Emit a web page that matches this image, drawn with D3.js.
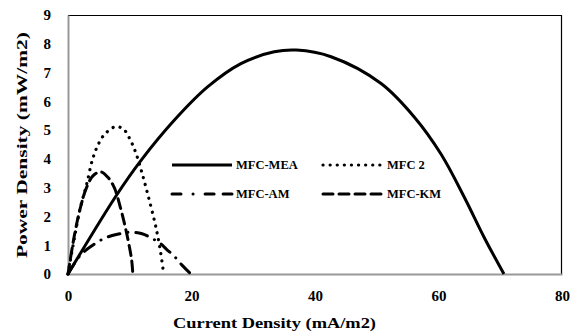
<!DOCTYPE html>
<html><head><meta charset="utf-8">
<script src="https://cdn.jsdelivr.net/npm/d3@7"></script>
<style>body{margin:0;background:#fff}svg{display:block}text{font-family:"Liberation Serif","Times New Roman",serif;font-weight:bold}</style>
</head><body>
<svg id="c" width="570" height="335"></svg>
<script>
const xTicks = [0, 20, 40, 60, 80];
const yTicks = [0, 1, 2, 3, 4, 5, 6, 7, 8, 9];
const seriesNames = ["MFC-MEA", "MFC 2", "MFC-AM", "MFC-KM"];
const meaX = [0, 7.8, 11.8, 17.2, 22.6, 28.0, 33.4, 37.0, 42.6, 50.7, 56.1, 60.4, 64.2, 67.4, 70.6];
const meaY = [0, 2.72, 3.94, 5.34, 6.5, 7.31, 7.72, 7.78, 7.55, 6.62, 5.45, 4.17, 2.66, 1.27, 0];
const mfc2X = [0, 1, 2, 3, 4, 5, 6, 7.7, 9, 10, 11, 12, 13, 14, 14.5, 15, 15.5];
const mfc2Y = [0, 1.2, 2.3, 3.1, 4.0, 4.55, 4.87, 5.12, 5.03, 4.7, 4.2, 3.5, 2.7, 1.85, 1.35, 0.75, 0];
const amX = [0, 2, 4, 6, 8, 10, 12, 13.5, 15, 16, 17.2, 18.5, 19.9];
const amY = [0, 0.65, 1.0, 1.25, 1.38, 1.45, 1.4, 1.25, 1.05, 0.85, 0.62, 0.3, 0];
const kmX = [0, 1, 2, 3, 4, 5.3, 6.5, 7.5, 8.5, 9.2, 9.8, 10.3, 10.5];
const kmY = [0, 1.3, 2.3, 3.0, 3.4, 3.55, 3.35, 3.0, 2.3, 1.7, 1.1, 0.5, 0];

const L = 68, R = 562, T = 15, B = 274;
const svg = d3.select("#c");
const x = d3.scaleLinear().domain([0, 80]).range([L, R]);
const y = d3.scaleLinear().domain([0, 9]).range([B, T]);

svg.append("line").attr("x1", L).attr("x2", R).attr("y1", T + 0.5).attr("y2", T + 0.5).attr("stroke", "#000").attr("stroke-width", 1.2);
svg.append("line").attr("x1", R - 0.5).attr("x2", R - 0.5).attr("y1", T).attr("y2", B).attr("stroke", "#000").attr("stroke-width", 1.2);

const xAxis = svg.append("g").attr("transform", `translate(0,${B})`)
  .call(d3.axisBottom(x).tickValues(xTicks).tickSize(0).tickPadding(16));
const yAxis = svg.append("g").attr("transform", `translate(${L},0)`)
  .call(d3.axisLeft(y).tickValues(yTicks).tickSize(0).tickPadding(17));
[xAxis, yAxis].forEach(g => {
  g.select(".domain").attr("stroke", "#999").attr("stroke-width", 2);
  g.selectAll("text").attr("font-size", 15).attr("fill", "#000")
    .style("font-family", '"Liberation Serif",serif').style("font-weight", "bold");
});

const line = d3.line().x(d => x(d[0])).y(d => y(d[1])).curve(d3.curveCatmullRom.alpha(0.5));
const styles = [
  {xs: meaX, ys: meaY, dash: null, cap: "butt", w: 3},
  {xs: mfc2X, ys: mfc2Y, dash: "0.1 7", cap: "round", w: 3.2},
  {xs: amX, ys: amY, dash: "12 8 0.1 8", cap: "round", w: 3},
  {xs: kmX, ys: kmY, dash: "10 6", cap: "round", w: 3}
];
styles.forEach(s => {
  const pts = s.xs.map((v, i) => [v, s.ys[i]]);
  const p = svg.append("path").datum(pts).attr("d", line).attr("fill", "none")
    .attr("stroke", "#000").attr("stroke-width", s.w).attr("stroke-linecap", s.cap);
  if (s.dash) p.attr("stroke-dasharray", s.dash);
});

const legPos = [[172, 165], [323, 165], [172, 194], [323, 194]];
[0, 1, 2, 3].forEach((si, k) => {
  const s = styles[si], [lx, ly] = legPos[k];
  const p = svg.append("line").attr("x1", lx).attr("x2", lx + 60).attr("y1", ly).attr("y2", ly)
    .attr("stroke", "#000").attr("stroke-width", s.w).attr("stroke-linecap", s.cap);
  if (si === 2) p.attr("stroke-dasharray", "9 12 0.1 12 9");
  else if (s.dash) p.attr("stroke-dasharray", s.dash);
  svg.append("text").attr("x", lx + 64).attr("y", ly).attr("dy", "0.35em")
    .attr("font-size", 12.5).text(seriesNames[si]);
});

svg.append("text").attr("x", 274.5).attr("y", 328).attr("text-anchor", "middle")
  .attr("font-size", 14).attr("textLength", 203).attr("lengthAdjust", "spacingAndGlyphs")
  .text("Current Density (mA/m2)");
svg.append("text").attr("transform", `translate(22,145) rotate(-90)`)
  .attr("text-anchor", "middle").attr("dy", "0.35em").attr("font-size", 14)
  .attr("textLength", 226).attr("lengthAdjust", "spacingAndGlyphs").text("Power Density (mW/m2)");
</script>
</body></html>
